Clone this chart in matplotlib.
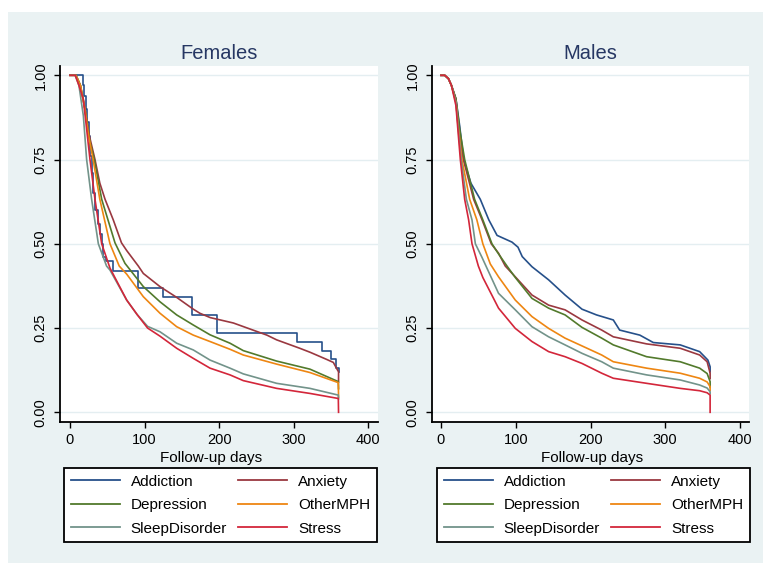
import matplotlib
matplotlib.use("Agg")
import matplotlib.pyplot as plt
from matplotlib.patches import Rectangle

plt.rcParams['font.family'] = ['Liberation Sans', 'DejaVu Sans']

# ---------------- data ----------------
series_names = ["Addiction", "Anxiety", "Depression", "OtherMPH", "SleepDisorder", "Stress"]
series_colors = ["#26508a", "#9a3840", "#527a2c", "#ee8612", "#72938a", "#d3263a"]

# Females
f_addiction_days = [0, 17, 19, 21, 23, 25, 27, 29, 31, 34, 37, 40, 42.5, 44.7, 47.8, 58, 91.5, 125, 163, 197, 304.5, 338, 349.5, 356.5, 360]
f_addiction_surv = [1.0, 0.97, 0.94, 0.90, 0.86, 0.82, 0.76, 0.71, 0.65, 0.60, 0.56, 0.53, 0.50, 0.462, 0.45, 0.42, 0.368, 0.341, 0.289, 0.236, 0.21, 0.183, 0.157, 0.131, 0.12]

f_anxiety_days = [0, 8, 14, 20, 26, 33.5, 40, 47, 58, 69, 76, 91.6, 98.3, 120.6, 143, 165.3, 174, 188, 219, 264, 277, 308, 322, 344, 353, 358, 360, 360]
f_anxiety_surv = [1.0, 1.0, 0.97, 0.90, 0.82, 0.75, 0.68, 0.632, 0.571, 0.503, 0.48, 0.434, 0.412, 0.373, 0.341, 0.306, 0.294, 0.281, 0.265, 0.229, 0.215, 0.19, 0.178, 0.157, 0.148, 0.128, 0.12, 0.09]

f_depression_days = [0, 8, 14, 20, 26, 32.6, 42.5, 60.3, 73.7, 98.3, 120.6, 143, 165.3, 187.7, 214.5, 232.3, 277, 321.7, 359.7, 360]
f_depression_surv = [1.0, 1.0, 0.97, 0.90, 0.81, 0.75, 0.632, 0.503, 0.442, 0.373, 0.328, 0.289, 0.259, 0.230, 0.205, 0.183, 0.152, 0.128, 0.091, 0.07]

f_othermph_days = [0, 8, 14, 20, 25, 31, 40, 53.6, 66, 76, 98.3, 120.6, 143, 165.3, 187.7, 214.5, 232.3, 277, 321.7, 359.7, 360]
f_othermph_surv = [1.0, 1.0, 0.97, 0.90, 0.82, 0.75, 0.632, 0.50, 0.434, 0.41, 0.343, 0.294, 0.254, 0.229, 0.21, 0.187, 0.170, 0.143, 0.118, 0.088, 0.045]

f_sleep_days = [0, 7, 12, 17.9, 22.3, 29, 38, 49, 53.6, 76, 90, 104, 120.6, 143, 165.3, 187.7, 214.5, 232.3, 277, 321.7, 359.7, 360]
f_sleep_surv = [1.0, 1.0, 0.97, 0.88, 0.75, 0.632, 0.50, 0.434, 0.422, 0.333, 0.29, 0.255, 0.239, 0.205, 0.185, 0.155, 0.131, 0.114, 0.086, 0.071, 0.051, 0.04]

f_stress_days = [0, 7, 12, 17.9, 26.8, 33.5, 42.5, 53.6, 76, 90, 104, 120.6, 143, 165.3, 187.7, 214.5, 232.3, 277, 321.7, 359.7, 360]
f_stress_surv = [1.0, 1.0, 0.97, 0.929, 0.75, 0.632, 0.50, 0.428, 0.333, 0.29, 0.25, 0.226, 0.19, 0.160, 0.131, 0.111, 0.094, 0.071, 0.056, 0.041, 0.0]

# Males
m_addiction_days = [0, 5, 10, 14, 20, 25, 30.3, 40, 52.6, 64, 75, 95, 103, 108.7, 121.7, 144, 166, 188.6, 208, 230.5, 239, 266, 284, 320, 346, 357, 360, 360]
m_addiction_surv = [1.0, 1.0, 0.99, 0.97, 0.93, 0.85, 0.75, 0.68, 0.632, 0.571, 0.525, 0.505, 0.49, 0.462, 0.432, 0.393, 0.348, 0.306, 0.289, 0.274, 0.244, 0.229, 0.207, 0.20, 0.18, 0.155, 0.135, 0.12]

m_anxiety_days = [0, 5, 10, 14, 20, 25, 30, 43.7, 55, 67.3, 77, 86, 99.4, 121.7, 144, 166, 188.6, 215, 230.5, 275, 320, 346, 356, 360, 360]
m_anxiety_surv = [1.0, 1.0, 0.99, 0.97, 0.93, 0.82, 0.75, 0.632, 0.571, 0.50, 0.472, 0.434, 0.402, 0.348, 0.318, 0.304, 0.274, 0.244, 0.224, 0.203, 0.19, 0.17, 0.15, 0.116, 0.10]

m_depression_days = [0, 5, 10, 14, 20, 25, 31.7, 45, 56, 68.2, 77, 88.3, 99.4, 121.7, 144, 166, 188.6, 215, 230.5, 275, 320, 346, 356, 360, 360]
m_depression_surv = [1.0, 1.0, 0.99, 0.97, 0.93, 0.84, 0.75, 0.632, 0.571, 0.50, 0.47, 0.434, 0.40, 0.338, 0.309, 0.289, 0.252, 0.22, 0.20, 0.165, 0.15, 0.131, 0.115, 0.091, 0.075]

m_othermph_days = [0, 5, 10, 14, 20, 24, 28, 38.4, 48, 56, 66, 77, 99.4, 121.7, 144, 166, 188.6, 215, 230.5, 275, 320, 346, 356, 360, 360]
m_othermph_surv = [1.0, 1.0, 0.99, 0.97, 0.92, 0.83, 0.75, 0.632, 0.571, 0.50, 0.44, 0.402, 0.333, 0.284, 0.249, 0.22, 0.197, 0.17, 0.15, 0.131, 0.116, 0.101, 0.09, 0.076, 0.065]

m_sleep_days = [0, 5, 10, 14, 20, 24, 27, 34, 41.5, 46, 54.8, 77, 99.4, 121.7, 144, 166, 188.6, 215, 230.5, 275, 320, 346, 356, 360, 360]
m_sleep_surv = [1.0, 1.0, 0.99, 0.97, 0.92, 0.82, 0.75, 0.632, 0.571, 0.50, 0.46, 0.353, 0.304, 0.254, 0.224, 0.20, 0.175, 0.15, 0.131, 0.111, 0.096, 0.081, 0.072, 0.061, 0.055]

m_stress_days = [0, 5, 10, 14, 20, 25.9, 31.7, 37, 41.5, 50, 56, 77, 99.4, 121.7, 144, 166, 188.6, 215, 230.5, 275, 320, 346, 356, 360, 360]
m_stress_surv = [1.0, 1.0, 0.99, 0.97, 0.91, 0.75, 0.632, 0.571, 0.50, 0.434, 0.40, 0.309, 0.249, 0.21, 0.18, 0.165, 0.145, 0.116, 0.101, 0.086, 0.071, 0.064, 0.058, 0.051, 0.0]

females = [(f_addiction_days, f_addiction_surv), (f_anxiety_days, f_anxiety_surv),
           (f_depression_days, f_depression_surv), (f_othermph_days, f_othermph_surv),
           (f_sleep_days, f_sleep_surv), (f_stress_days, f_stress_surv)]
males = [(m_addiction_days, m_addiction_surv), (m_anxiety_days, m_anxiety_surv),
         (m_depression_days, m_depression_surv), (m_othermph_days, m_othermph_surv),
         (m_sleep_days, m_sleep_surv), (m_stress_days, m_stress_surv)]

panel_titles = ["Females", "Males"]
x_ticks = [0, 100, 200, 300, 400]
y_ticks = [0.0, 0.25, 0.5, 0.75, 1.0]
y_ticklabels = ["0.00", "0.25", "0.50", "0.75", "1.00"]
x_label = "Follow-up days"

# ---------------- figure ----------------
W, H = 763, 563
fig = plt.figure(figsize=(W / 100, H / 100), dpi=100, facecolor="white")
bg = Rectangle((8 / W, 0), 1 - 8 / W, 1 - 12 / H, transform=fig.transFigure,
               facecolor="#EAF2F3", edgecolor="none", zorder=-10)
fig.patches.append(bg)

def px_axes(x0, x1, y0, y1):
    return [x0 / W, 1 - y1 / H, (x1 - x0) / W, (y1 - y0) / H]

panels = [
    dict(rect=px_axes(60, 378, 66, 421.7), xlim=(-13.4, 412.9), data=females,
         steps=[True, False, False, False, False, False], xlab_x=0.474, leg_x=0.0135),
    dict(rect=px_axes(432.3, 749.3, 66, 421.7), xlim=(-11.6, 412.4), data=males,
         steps=[False] * 6, xlab_x=0.504, leg_x=0.0158),
]

for p, title in zip(panels, panel_titles):
    ax = fig.add_axes(p["rect"])
    ax.set_facecolor("white")
    ax.set_xlim(*p["xlim"])
    ax.set_ylim(-0.0279, 1.0276)
    for yt in y_ticks:
        ax.axhline(yt, color="#E4EEF1", lw=1.0, zorder=0)
    lines = []
    for (d, s), name, col, st in zip(p["data"], series_names, series_colors, p["steps"]):
        ln, = ax.plot(d, s, color=col, lw=1.2, label=name,
                      drawstyle="steps-post" if st else "default", zorder=2)
        lines.append(ln)
    for side in ("top", "right"):
        ax.spines[side].set_visible(False)
    for side in ("left", "bottom"):
        ax.spines[side].set_color("black")
        ax.spines[side].set_linewidth(1.3)
    ax.set_xticks(x_ticks)
    ax.set_yticks(y_ticks)
    ax.set_yticklabels(y_ticklabels)
    ax.tick_params(axis="both", direction="out", length=4, width=1.0, color="black",
                   labelsize=10.5, labelcolor="black")
    ax.tick_params(axis="x", pad=4)
    ax.tick_params(axis="y", pad=5, labelrotation=90)
    for lab in ax.get_yticklabels():
        lab.set_va("center")
    ax.set_xlabel(x_label, fontsize=11, color="black", va="center")
    ax.xaxis.set_label_coords(p["xlab_x"], -0.102)
    ax.set_title(title, fontsize=14.5, color="#263763", pad=0, y=1.035, va="center")
    # legend: row-major order
    order = [0, 2, 4, 1, 3, 5]
    leg = ax.legend([lines[i] for i in order], [series_names[i] for i in order],
                    ncol=2, loc="upper left", bbox_to_anchor=(p["leg_x"], -0.131),
                    borderaxespad=0, frameon=True, fancybox=False, framealpha=1,
                    edgecolor="black", facecolor="white", fontsize=11,
                    handlelength=3.2, handletextpad=0.72, columnspacing=0.75,
                    labelspacing=0.62, borderpad=0.42)
    leg.get_frame().set_linewidth(1.3)
    for lh in leg.get_lines():
        lh.set_linewidth(1.3)

fig.savefig("out.png", dpi=100, facecolor=fig.get_facecolor())
